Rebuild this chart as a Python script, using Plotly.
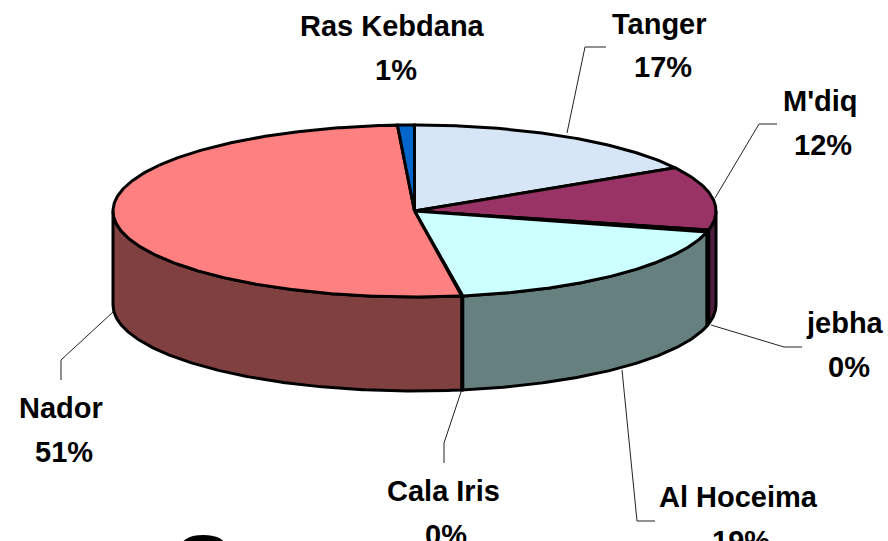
import numpy as np
import plotly.graph_objects as go

# Data, clockwise from the top of the pie
categories = ["Tanger", "M'diq", "jebha", "Al Hoceima", "Cala Iris", "Nador", "Ras Kebdana"]
values = [16.6, 11.9, 0.4, 18.5, 0.05, 51.55, 0.9]
percent_labels = ["17%", "12%", "0%", "19%", "0%", "51%", "1%"]

top_colors = ["#D7E6F7", "#993366", "#660066", "#CCFFFF", "#A0E0C0", "#FF8080", "#0066CC"]
side_colors = ["#6B737B", "#4D1F3D", "#4D1F3D", "#668080", "#668080", "#804040", "#003366"]

# Projection of the pie in page pixels
CX, CY, RX, RY, DEPTH = 414.5, 211.0, 301.5, 86.0, 94.0
W, H = 888, 541
EDGE = 3


def rim(a0, a1, dy=0.0):
    t = np.radians(np.linspace(a0, a1, max(int(abs(a1 - a0) * 2) + 2, 2)))
    return CX + RX * np.sin(t), CY - RY * np.cos(t) + dy


fig = go.Figure()
total = sum(values)
edges = np.concatenate([[0.0], np.cumsum(values)]) / total * 360.0


def add_poly(x, y, fill):
    fig.add_trace(go.Scatter(
        x=x, y=y, mode="lines", fill="toself", fillcolor=fill,
        line=dict(color="black", width=EDGE), hoverinfo="skip", showlegend=False))


# Visible wall of the cylinder (front half only)
for i in range(len(values)):
    a0, a1 = max(edges[i], 90.0), min(edges[i + 1], 270.0)
    if a1 <= a0:
        continue
    xt, yt = rim(a0, a1)
    xb, yb = rim(a0, a1, DEPTH)
    add_poly(np.r_[xt, xb[::-1], xt[0]], np.r_[yt, yb[::-1], yt[0]], side_colors[i])

# Top face
for i in range(len(values)):
    xt, yt = rim(edges[i], edges[i + 1])
    add_poly(np.r_[CX, xt, CX], np.r_[CY, yt, CY], top_colors[i])

# Leader lines
leaders = {
    "Tanger": ([567, 585, 606], [133, 47, 47]),
    "M'diq": ([715, 759, 777], [198, 124, 124]),
    "jebha": ([711, 784, 802], [325, 347, 347]),
    "Al Hoceima": ([622, 637, 655], [370, 521, 521]),
    "Cala Iris": ([461, 444, 444], [392, 443, 463]),
    "Nador": ([113, 61, 61], [312, 360, 380]),
}
for name, (lx, ly) in leaders.items():
    fig.add_trace(go.Scatter(x=lx, y=ly, mode="lines", line=dict(color="#222222", width=1),
                             hoverinfo="skip", showlegend=False))

# Labels: name line, percent line
label_pos = {
    "Ras Kebdana": (392, 26, 396, 70),
    "Tanger": (659, 24, 663, 67),
    "M'diq": (820, 101, 823, 145),
    "jebha": (845, 323, 849, 367),
    "Al Hoceima": (738, 497, 741, 541),
    "Cala Iris": (443, 491, 446, 535),
    "Nador": (61, 408, 64, 452),
}
FONT = dict(family="Liberation Sans", size=29, color="black")
annotations = []
for name, pct in zip(categories, percent_labels):
    nx, ny, px, py = label_pos[name]
    annotations.append(dict(x=nx, y=ny, text=f"<b>{name}</b>", showarrow=False, font=FONT,
                            xanchor="center", yanchor="middle"))
    annotations.append(dict(x=px, y=py, text=f"<b>{pct}</b>", showarrow=False, font=FONT,
                            xanchor="center", yanchor="middle"))

# Top of a large title that the frame cuts off
fig.add_trace(go.Scatter(x=[203], y=[530], mode="text", text=["<b>S</b>"],
                         textfont=dict(family="Liberation Sans", size=88, color="black"),
                         textposition="bottom center", hoverinfo="skip", showlegend=False,
                         cliponaxis=False))

fig.update_layout(
    width=W, height=H, margin=dict(l=0, r=0, t=0, b=0),
    paper_bgcolor="white", plot_bgcolor="white", annotations=annotations,
    xaxis=dict(range=[0, W], visible=False, fixedrange=True),
    yaxis=dict(range=[H, 0], visible=False, fixedrange=True),
)
fig.write_html("out.html", config={"displayModeBar": False},
               post_script="document.body.style.margin='0';document.documentElement.style.overflow='hidden';")
